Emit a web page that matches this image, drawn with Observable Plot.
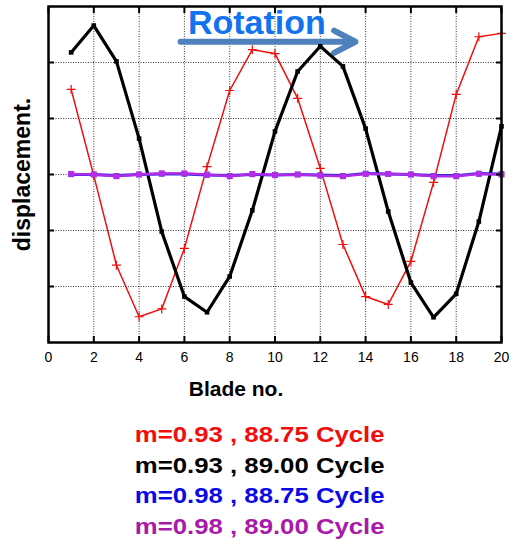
<!DOCTYPE html>
<html>
<head>
<meta charset="utf-8">
<script src="https://cdn.jsdelivr.net/npm/d3@7"></script>
<script src="https://cdn.jsdelivr.net/npm/@observablehq/plot@0.6"></script>
<style>
  html, body { margin: 0; padding: 0; background: #fff; }
  #chart svg { display: block; font-family: "Liberation Sans", Arial, Helvetica, sans-serif; }
  #legend {
    width: 519px;
    padding-top: 10px;
    font-family: "Liberation Sans", Arial, Helvetica, sans-serif;
    font-weight: bold;
    font-size: 22px;
    line-height: 30.5px;
    text-align: center;
  }
  #legend span { display: inline-block; transform: scaleX(1.17); white-space: pre; }
</style>
</head>
<body>
<div id="chart"></div>
<div id="legend"></div>
<script>
// Blade numbers around the rotor
const blades = [1, 2, 3, 4, 5, 6, 7, 8, 9, 10, 11, 12, 13, 14, 15, 16, 17, 18, 19, 20];

// Displacement per blade for each case
const red93_8875 = [4.52, 2.98, 1.38, 0.46, 0.60, 1.68, 3.14, 4.50, 5.23, 5.16,
                    4.36, 3.11, 1.75, 0.82, 0.68, 1.45, 2.86, 4.43, 5.46, 5.52];
const black93_8900 = [5.18, 5.66, 5.02, 3.64, 1.98, 0.82, 0.54, 1.18, 2.36, 3.77,
                      4.84, 5.29, 4.93, 3.82, 2.34, 1.07, 0.45, 0.87, 2.16, 3.86];
const blue98_8875 = [3.00, 3.00, 2.98, 3.00, 3.01, 3.01, 2.99, 2.98, 3.00, 2.99,
                     3.00, 2.99, 2.98, 3.02, 3.01, 3.00, 2.98, 2.98, 3.02, 3.01];
const magenta98_8900 = [3.01, 3.00, 2.97, 3.00, 3.02, 3.02, 3.00, 2.97, 3.01, 2.99,
                        3.00, 2.98, 2.97, 3.01, 3.01, 3.00, 2.97, 2.97, 3.01, 3.00];

// Axis ticks and grid
const xTicks = [0, 2, 4, 6, 8, 10, 12, 14, 16, 18, 20];
const xGrid = [2, 4, 6, 8, 10, 12, 14, 16, 18];
const yGrid = [1, 2, 3, 4, 5];

// Rotation direction annotation
const rotationLabel = [{x: 9.2, y: 5.70, text: "Rotation"}];
const rotationArrow = [{x1: 5.83, x2: 13.55, y: 5.37}];

// Legend entries
const legendLabels = ["m=0.93 , 88.75 Cycle", "m=0.93 , 89.00 Cycle", "m=0.98 , 88.75 Cycle", "m=0.98 , 89.00 Cycle"];
const legendColors = ["#f20d0d", "#000000", "#0a0ae6", "#a81aa8"];

const series = (ys) => blades.map((b, i) => ({blade: b, value: ys[i]}));
const red = series(red93_8875);
const black = series(black93_8900);
const blue = series(blue98_8875);
const magenta = series(magenta98_8900);

const chart = Plot.plot({
  width: 519,
  height: 410,
  marginLeft: 48,
  marginRight: 18,
  marginTop: 6,
  marginBottom: 68,
  style: {fontFamily: "'Liberation Sans', Arial, Helvetica, sans-serif", fontSize: "14px", color: "#000"},
  x: {domain: [0, 20]},
  y: {domain: [0, 6]},
  marks: [
    Plot.gridX(xGrid, {stroke: "#222", strokeOpacity: 0.9, strokeWidth: 1, strokeDasharray: "1,1.5"}),
    Plot.gridY(yGrid, {stroke: "#222", strokeOpacity: 0.9, strokeWidth: 1, strokeDasharray: "1,1.5"}),
    Plot.arrow(rotationArrow, {x1: "x1", x2: "x2", y1: "y", y2: "y", stroke: "#4f81bd", strokeWidth: 6, headLength: 6, headAngle: 55}),
    Plot.text(rotationLabel, {x: "x", y: "y", text: "text", fill: "#1273f0", fontSize: 34, fontWeight: "bold"}),
    Plot.line(red, {x: "blade", y: "value", stroke: "#f20d0d", strokeWidth: 1.5}),
    Plot.dot(red, {x: "blade", y: "value", symbol: "plus", r: 3, stroke: "#f20d0d", strokeWidth: 1.2}),
    Plot.line(black, {x: "blade", y: "value", stroke: "#000", strokeWidth: 3.2}),
    Plot.dot(black, {x: "blade", y: "value", symbol: "square", r: 2.6, fill: "#000", stroke: "none"}),
    Plot.line(blue, {x: "blade", y: "value", stroke: "#2a2ae0", strokeWidth: 3}),
    Plot.dot(blue, {x: "blade", y: "value", symbol: "square", r: 3, fill: "#2a2ae0", stroke: "none"}),
    Plot.line(magenta, {x: "blade", y: "value", stroke: "#b02ae8", strokeWidth: 2.5}),
    Plot.dot(magenta, {x: "blade", y: "value", symbol: "square", r: 3.4, fill: "#b22ee6", stroke: "none"}),
    Plot.frame({stroke: "#000", strokeWidth: 2.5}),
    Plot.axisX(xTicks, {anchor: "bottom", tickSize: -6, strokeWidth: 2, tickFormat: () => "", label: null}),
    Plot.axisX(xTicks, {anchor: "top", tickSize: -6, strokeWidth: 2, tickFormat: () => "", label: null}),
    Plot.axisX(xTicks, {anchor: "bottom", tickSize: 0, tickPadding: 10, fontSize: 14, label: null}),
    Plot.axisY(yGrid, {anchor: "left", tickSize: -6, strokeWidth: 2, tickFormat: () => "", label: null}),
    Plot.axisY(yGrid, {anchor: "right", tickSize: -6, strokeWidth: 2, tickFormat: () => "", label: null}),
    Plot.text(["displacement."], {frameAnchor: "left", textAnchor: "middle", rotate: -90, dx: -26, fontSize: 23, fontWeight: "bold"}),
    Plot.text(["Blade no."], {frameAnchor: "bottom", textAnchor: "middle", dx: -39, dy: 53, fontSize: 21, fontWeight: "bold"})
  ]
});
document.getElementById("chart").appendChild(chart);

const legend = document.getElementById("legend");
legendLabels.forEach((label, i) => {
  const row = document.createElement("div");
  const span = document.createElement("span");
  span.textContent = label;
  span.style.color = legendColors[i];
  row.appendChild(span);
  legend.appendChild(row);
});
</script>
</body>
</html>
